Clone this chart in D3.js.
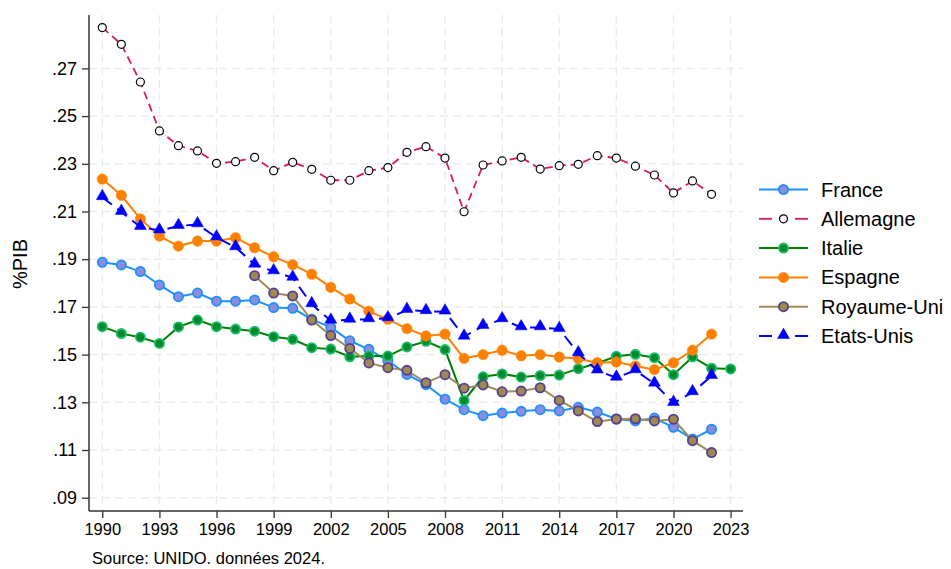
<!DOCTYPE html>
<html>
<head>
<meta charset="utf-8">
<script src="https://cdn.jsdelivr.net/npm/d3@7"></script>
<style>
  body { margin: 0; background: #fff; }
  svg { display: block; }
  text { font-family: "Liberation Sans", Arial, Helvetica, sans-serif; fill: #000; }
</style>
</head>
<body>
<svg id="chart" width="951" height="569"></svg>
<script>
// ---- data ----
const years = d3.range(1990, 2024);
const yTicks = [0.09, 0.11, 0.13, 0.15, 0.17, 0.19, 0.21, 0.23, 0.25, 0.27];
const yTickLabels = [".09", ".11", ".13", ".15", ".17", ".19", ".21", ".23", ".25", ".27"];
const xTicks = [1990, 1993, 1996, 1999, 2002, 2005, 2008, 2011, 2014, 2017, 2020, 2023];

const france = [0.1887,0.1876,0.1848,0.1792,0.1743,0.1758,0.1724,0.1724,0.1729,0.1697,0.1694,0.1648,0.1614,0.1558,0.1522,0.1474,0.1417,0.1374,0.1313,0.1269,0.1244,0.1255,0.1262,0.1269,0.1264,0.1279,0.1259,0.1230,0.1222,0.1234,0.1195,0.1146,0.1187,null];
const allemagne = [0.2871,0.2801,0.2643,0.2438,0.2376,0.2354,0.2302,0.2309,0.2327,0.2271,0.2306,0.2277,0.2231,0.2231,0.2271,0.2284,0.2348,0.2372,0.2324,0.2099,0.2295,0.2312,0.2327,0.2278,0.2292,0.2298,0.2334,0.2324,0.2290,0.2253,0.2178,0.2228,0.2172,null];
const italie = [0.1617,0.1588,0.1573,0.1547,0.1616,0.1645,0.1617,0.1607,0.1598,0.1575,0.1564,0.1529,0.1523,0.1491,0.1494,0.1494,0.1532,0.1556,0.1521,0.1308,0.1407,0.1419,0.1406,0.1412,0.1414,0.1441,0.1464,0.1493,0.1501,0.1487,0.1416,0.1490,0.1443,0.1440];
const espagne = [0.2236,0.2168,0.2069,0.1997,0.1955,0.1976,0.1976,0.1990,0.1948,0.1910,0.1877,0.1837,0.1782,0.1733,0.1682,0.1648,0.1609,0.1578,0.1586,0.1484,0.1500,0.1518,0.1495,0.1500,0.1490,0.1483,0.1466,0.1469,0.1452,0.1437,0.1466,0.1518,0.1586,null];
const royaumeUni = [null,null,null,null,null,null,null,null,0.1831,0.1758,0.1746,0.1645,0.1580,0.1526,0.1465,0.1445,0.1434,0.1382,0.1416,0.1359,0.1373,0.1344,0.1347,0.1361,0.1308,0.1264,0.1219,0.1230,0.1231,0.1222,0.1229,0.1139,0.1089,null];
const etatsUnis = [0.2160,0.2098,0.2035,0.2020,0.2039,0.2046,0.1991,0.1950,0.1877,0.1849,0.1822,0.1711,0.1642,0.1646,0.1648,0.1652,0.1687,0.1682,0.1680,0.1575,0.1620,0.1648,0.1614,0.1614,0.1607,0.1505,0.1433,0.1403,0.1434,0.1378,0.1297,0.1342,0.1410,null];

const seriesNames = ["France", "Allemagne", "Italie", "Espagne", "Royaume-Uni", "Etats-Unis"];
const seriesValues = [france, allemagne, italie, espagne, royaumeUni, etatsUnis];

// ---- styles ----
const styles = [
  {line: "#1e90ff", dash: null, marker: "circle", r: 4.6, fill: "#8c8cdc", stroke: "#1e90ff", sw: 1.8, lw: 2},
  {line: "#d81b5a", dash: "8,5", marker: "circle", r: 4.0, fill: "#ffffff", stroke: "#000000", sw: 1.2, lw: 1.8},
  {line: "#008000", dash: null, marker: "circle", r: 4.6, fill: "#008a2e", stroke: "#1cbc68", sw: 1.8, lw: 2},
  {line: "#ff8000", dash: null, marker: "circle", r: 5.2, fill: "#ff8000", stroke: "#ff8000", sw: 0.5, lw: 2},
  {line: "#a08c5a", dash: null, marker: "circle", r: 4.6, fill: "#9c8a4e", stroke: "#5a3d96", sw: 1.8, lw: 2},
  {line: "#0000ff", dash: "12,7", marker: "triangle", r: 6, fill: "#0000ff", stroke: "#0000ff", sw: 0.5, lw: 2}
];

const svg = d3.select("#chart");
const x = d3.scaleLinear().domain([1990, 2023]).range([102.3, 730.6]);
const y = d3.scaleLinear().domain([0.09, 0.27]).range([497.7, 68.4]);
const plotLeft = 89, plotRight = 743, plotTop = 15, plotBottom = 511;

// grid
const grid = svg.append("g");
grid.selectAll("line.h").data(yTicks).join("line")
  .attr("x1", plotLeft).attr("x2", plotRight)
  .attr("y1", d => y(d)).attr("y2", d => y(d))
  .attr("stroke", "#ebebeb").attr("stroke-width", 1.5).attr("stroke-dasharray", "8,5");
grid.selectAll("line.v").data(xTicks).join("line")
  .attr("x1", d => x(d)).attr("x2", d => x(d))
  .attr("y1", plotTop).attr("y2", plotBottom)
  .attr("stroke", "#ebebeb").attr("stroke-width", 1.5).attr("stroke-dasharray", "8,5");

// axes
const yAxis = d3.axisLeft(y).tickValues(yTicks).tickFormat((d, i) => yTickLabels[i]).tickSize(7).tickPadding(5);
const gy = svg.append("g").attr("transform", `translate(${plotLeft},0)`).call(yAxis);
gy.select(".domain").remove();
gy.append("line").attr("x1", 0).attr("x2", 0).attr("y1", plotTop).attr("y2", plotBottom).attr("stroke", "#333").attr("stroke-width", 1.5);
gy.selectAll(".tick line").attr("stroke", "#333").attr("stroke-width", 1.3);
gy.selectAll(".tick text").style("font-size", "18px").style("font-family", "'Liberation Sans', Arial, sans-serif").attr("fill", "#000");

const xAxis = d3.axisBottom(x).tickValues(xTicks).tickFormat(d3.format("d")).tickSize(7).tickPadding(5);
const gx = svg.append("g").attr("transform", `translate(0,${plotBottom})`).call(xAxis);
gx.select(".domain").remove();
gx.append("line").attr("x1", plotLeft).attr("x2", plotRight).attr("y1", 0).attr("y2", 0).attr("stroke", "#333").attr("stroke-width", 1.5);
gx.selectAll(".tick line").attr("stroke", "#333").attr("stroke-width", 1.3);
gx.selectAll(".tick text").style("font-size", "16.5px").style("font-family", "'Liberation Sans', Arial, sans-serif").attr("fill", "#000");

// series
const tri = d3.symbol().type(d3.symbolTriangle).size(62);
seriesValues.forEach((vals, i) => {
  const st = styles[i];
  const pts = years.map((yr, j) => ({yr, v: vals[j]})).filter(p => p.v != null);
  const line = d3.line().x(p => x(p.yr)).y(p => y(p.v));
  svg.append("path").datum(pts).attr("d", line)
    .attr("fill", "none").attr("stroke", st.line).attr("stroke-width", st.lw)
    .attr("stroke-dasharray", st.dash);
  const g = svg.append("g");
  if (st.marker === "circle") {
    g.selectAll("circle").data(pts).join("circle")
      .attr("cx", p => x(p.yr)).attr("cy", p => y(p.v)).attr("r", st.r)
      .attr("fill", st.fill).attr("stroke", st.stroke).attr("stroke-width", st.sw);
  } else {
    g.selectAll("path").data(pts).join("path")
      .attr("d", tri).attr("transform", p => `translate(${x(p.yr)},${y(p.v) - 1})`)
      .attr("fill", st.fill).attr("stroke", st.stroke).attr("stroke-width", st.sw);
  }
});

// legend
const leg = svg.append("g");
seriesNames.forEach((name, i) => {
  const st = styles[i];
  const ly = 189.5 + i * 29.3;
  const g = leg.append("g").attr("transform", `translate(0,${ly})`);
  if (st.dash) {
    g.append("line").attr("x1", 759).attr("x2", 772).attr("y1", 0).attr("y2", 0).attr("stroke", st.line).attr("stroke-width", st.lw);
    g.append("line").attr("x1", 795).attr("x2", 808).attr("y1", 0).attr("y2", 0).attr("stroke", st.line).attr("stroke-width", st.lw);
  } else {
    g.append("line").attr("x1", 759).attr("x2", 808).attr("y1", 0).attr("y2", 0).attr("stroke", st.line).attr("stroke-width", st.lw);
  }
  if (st.marker === "circle") {
    g.append("circle").attr("cx", 783.5).attr("cy", 0).attr("r", st.r)
      .attr("fill", st.fill).attr("stroke", st.stroke).attr("stroke-width", st.sw);
  } else {
    g.append("path").attr("d", tri).attr("transform", "translate(783.5,-1)")
      .attr("fill", st.fill).attr("stroke", st.stroke).attr("stroke-width", st.sw);
  }
  g.append("text").attr("x", 821).attr("y", 7).style("font-size", "20px").text(name);
});

// y title
svg.append("text").attr("transform", "translate(27,264) rotate(-90)")
  .attr("text-anchor", "middle").style("font-size", "20px").text("%PIB");

// source
svg.append("text").attr("x", 92).attr("y", 564).style("font-size", "16.5px").text("Source: UNIDO. données 2024.");
</script>
</body>
</html>
